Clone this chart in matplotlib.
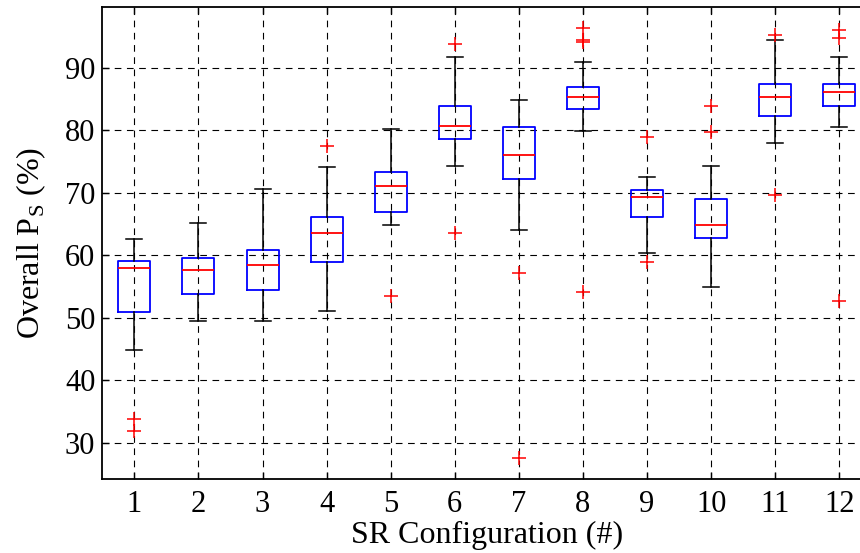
import matplotlib
matplotlib.use('Agg')
import matplotlib.pyplot as plt

plt.rcParams['font.family'] = ['Liberation Serif', 'DejaVu Serif']
plt.rcParams['mathtext.fontset'] = 'custom'
plt.rcParams['mathtext.rm'] = 'Liberation Serif'

# box statistics, one entry per SR configuration
configs = list(range(1, 13))
whis_lo = [44.9, 49.5, 49.5, 51.1, 64.8, 74.3, 64.0, 79.9, 60.3, 55.0, 78.0, 80.5]
q1 = [50.9, 53.8, 54.4, 58.9, 67.0, 78.7, 72.2, 83.5, 66.1, 62.8, 82.3, 83.9]
med = [58.0, 57.7, 58.5, 63.5, 71.1, 80.7, 76.1, 85.4, 69.3, 64.9, 85.4, 86.1]
q3 = [59.1, 59.6, 60.9, 66.1, 73.4, 83.9, 80.5, 87.0, 70.4, 69.0, 87.4, 87.4]
whis_hi = [62.6, 65.2, 70.6, 74.1, 80.3, 91.8, 84.9, 90.9, 72.5, 74.3, 94.5, 91.8]
outliers = [[33.8, 31.9], [], [], [77.5], [53.5], [93.8, 63.5], [57.1, 27.6],
            [96.4, 94.4, 94.1, 54.1], [79.0, 58.9], [83.9, 79.8], [95.2, 69.7],
            [96.1, 94.8, 52.7]]
yticks = [30, 40, 50, 60, 70, 80, 90]

# build the stats dicts bxp wants
stats = []
for i in range(len(configs)):
    stats.append({'whislo': whis_lo[i], 'q1': q1[i], 'med': med[i], 'q3': q3[i],
                  'whishi': whis_hi[i], 'fliers': outliers[i]})

fig = plt.figure(figsize=(8.6, 5.53), dpi=100)
# axes run a little past the right edge, like the cropped original
ax = fig.add_axes([102.3 / 860, 1 - 479 / 553, (871.4 - 102.3) / 860, (479 - 7.3) / 553])

ax.bxp(stats, positions=configs, widths=0.5, capwidths=0.25,
       boxprops=dict(color='blue', linewidth=1.3),
       medianprops=dict(color='red', linewidth=1.3),
       whiskerprops=dict(color='black', linewidth=1.1),
       capprops=dict(color='black', linewidth=1.1),
       flierprops=dict(marker='+', markeredgecolor='red', markersize=10, markeredgewidth=1.1))

ax.set_xlim(0.5, 12.5)
ax.set_ylim(24.2, 99.7)
ax.set_xticks(configs)
ax.set_xticklabels([str(c) for c in configs])
ax.set_yticks(yticks)

ax.set_axisbelow(True)
ax.grid(True, linestyle=(0, (6, 5)), color='black', linewidth=0.8)

for sp in ax.spines.values():
    sp.set_linewidth(1.3)
ax.tick_params(direction='in', length=5, width=1, labelsize=22, top=True, right=True)
ax.tick_params(axis='y', pad=5)
ax.tick_params(axis='x', pad=8)

ax.set_xlabel('SR Configuration (#)', fontsize=23, labelpad=1)
ax.set_ylabel(r'Overall P$_\mathregular{S}$ (%)', fontsize=23, labelpad=12)

fig.savefig('out.png', dpi=100)
